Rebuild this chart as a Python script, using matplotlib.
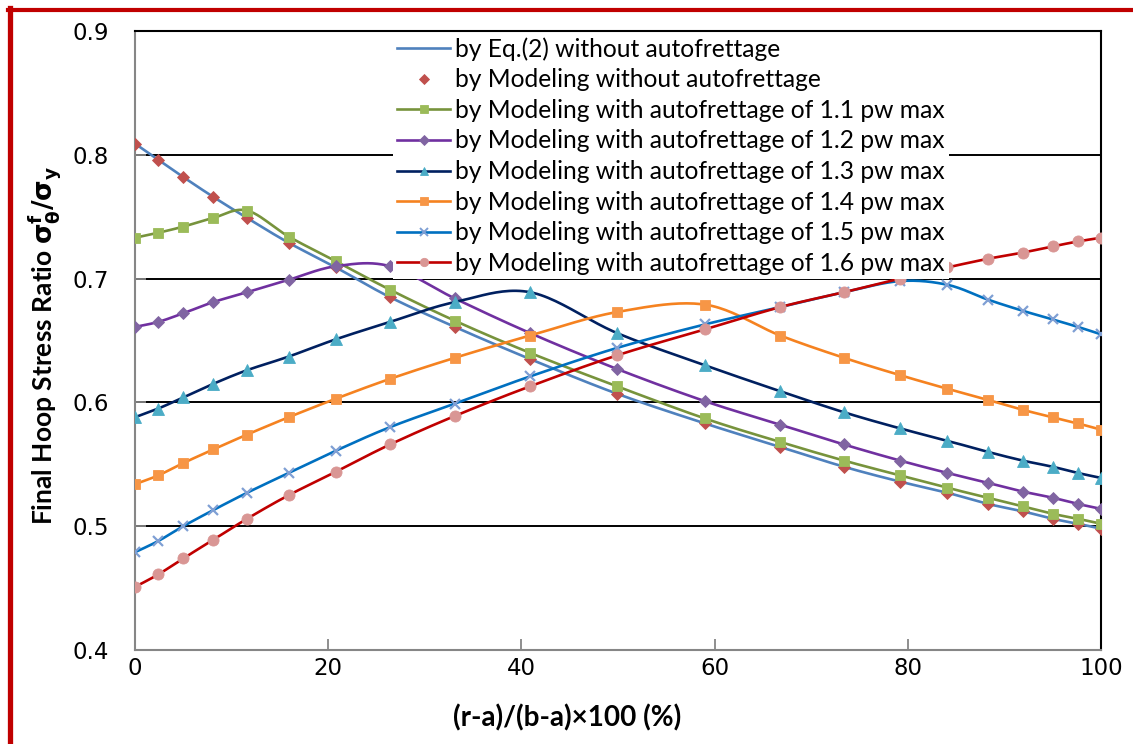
import numpy as np
import matplotlib
matplotlib.use("Agg")
import matplotlib.pyplot as plt
from matplotlib.lines import Line2D

# ── DATA ──────────────────────────────────────────────────────────────────────

x_pos = [0, 2.4, 5.0, 8.1, 11.6, 15.9, 20.8, 26.4, 33.1, 40.9, 49.9,
         59.0, 66.8, 73.4, 79.2, 84.1, 88.3, 91.9, 95.0, 97.6, 100]

eq2_no_af = [0.809, 0.796, 0.782, 0.766, 0.749, 0.729, 0.709, 0.685, 0.661, 0.635, 0.607,
             0.583, 0.564, 0.548, 0.536, 0.527, 0.518, 0.512, 0.506, 0.502, 0.498]
model_no_af = [0.809, 0.796, 0.782, 0.766, 0.749, 0.729, 0.709, 0.685, 0.661, 0.635, 0.607,
               0.583, 0.564, 0.548, 0.536, 0.527, 0.518, 0.512, 0.506, 0.502, 0.498]
af_11 = [0.733, 0.737, 0.742, 0.749, 0.755, 0.734, 0.714, 0.691, 0.666, 0.640, 0.613,
         0.587, 0.568, 0.553, 0.541, 0.531, 0.523, 0.516, 0.510, 0.506, 0.502]
af_12 = [0.661, 0.665, 0.672, 0.681, 0.689, 0.699, 0.710, 0.710, 0.684, 0.656, 0.627,
         0.601, 0.582, 0.566, 0.553, 0.543, 0.535, 0.528, 0.523, 0.518, 0.514]
af_13 = [0.588, 0.595, 0.604, 0.615, 0.626, 0.637, 0.651, 0.665, 0.681, 0.689, 0.656,
         0.630, 0.609, 0.592, 0.579, 0.569, 0.560, 0.553, 0.548, 0.543, 0.539]
af_14 = [0.534, 0.541, 0.551, 0.562, 0.574, 0.588, 0.603, 0.619, 0.636, 0.654, 0.673,
         0.679, 0.654, 0.636, 0.622, 0.611, 0.602, 0.594, 0.588, 0.583, 0.578]
af_15 = [0.479, 0.488, 0.500, 0.513, 0.527, 0.543, 0.561, 0.580, 0.599, 0.621, 0.644,
         0.663, 0.677, 0.689, 0.698, 0.695, 0.683, 0.674, 0.667, 0.661, 0.655]
af_16 = [0.451, 0.461, 0.474, 0.489, 0.506, 0.525, 0.544, 0.566, 0.589, 0.613, 0.638,
         0.659, 0.677, 0.689, 0.700, 0.709, 0.716, 0.721, 0.726, 0.730, 0.733]

labels = [
    "by Eq.(2) without autofrettage",
    "by Modeling without autofrettage",
    "by Modeling with autofrettage of 1.1 pw max",
    "by Modeling with autofrettage of 1.2 pw max",
    "by Modeling with autofrettage of 1.3 pw max",
    "by Modeling with autofrettage of 1.4 pw max",
    "by Modeling with autofrettage of 1.5 pw max",
    "by Modeling with autofrettage of 1.6 pw max",
]

# (values, line colour, marker, marker colour, marker size)
SERIES = [
    (eq2_no_af,   "#4F81BD", None, None,      0),
    (model_no_af, None,      "D",  "#C0504D", 6.5),
    (af_11,       "#77933C", "s",  "#9BBB59", 7.5),
    (af_12,       "#7030A0", "D",  "#8064A2", 6.5),
    (af_13,       "#002060", "^",  "#4BACC6", 8.5),
    (af_14,       "#F58220", "s",  "#F79646", 7.5),
    (af_15,       "#0070C0", "x",  "#7F9FD4", 7.5),
    (af_16,       "#C00000", "o",  "#D99694", 8.0),
]

TEXT_FONT = ["Lato", "DejaVu Sans"]
BORDER_RED = "#C00000"
AXIS_GRAY = "#868686"

W_PX, H_PX = 966, 619   # plot area size in pixels, used for screen-space smoothing


def smooth(xs, ys, n=24):
    """Excel-style smoothed line (Bezier through the points, done in screen space)."""
    u = np.asarray(xs, float) / 100 * W_PX
    v = (np.asarray(ys, float) - 0.4) / 0.5 * H_PX
    P = np.column_stack([u, v])
    Pm = np.vstack([P[0], P, P[-1]])
    t = np.linspace(0, 1, n)[1:, None]
    out = [P[:1]]
    for i in range(len(P) - 1):
        p0, p1, p2, p3 = Pm[i], Pm[i + 1], Pm[i + 2], Pm[i + 3]
        c1 = p1 + (p2 - p0) / 6
        c2 = p2 - (p3 - p1) / 6
        out.append((1 - t) ** 3 * p1 + 3 * (1 - t) ** 2 * t * c1
                   + 3 * (1 - t) * t ** 2 * c2 + t ** 3 * p2)
    Q = np.vstack(out)
    return Q[:, 0] / W_PX * 100, Q[:, 1] / H_PX * 0.5 + 0.4


plt.rcParams["mathtext.fontset"] = "dejavusans"
plt.rcParams["mathtext.default"] = "bf"

fig = plt.figure(figsize=(11.33, 7.44), dpi=100, facecolor="white")
ax = fig.add_axes([135 / 1133, 1 - 650 / 744, 966 / 1133, 619 / 744])

# grid lines
for yv in [0.5, 0.6, 0.7, 0.8, 0.9]:
    ax.axhline(yv, color="black", lw=1.4, zorder=1)

handles = []
for k, (vals, lc, mk, mc, ms) in enumerate(SERIES):
    z = 3 + k
    if lc is not None:
        sx, sy = smooth(x_pos, vals)
        ax.plot(sx, sy, color=lc, lw=1.9, zorder=z, solid_capstyle="round")
    if mk is not None:
        mew = 1.6 if mk == "x" else 0.6
        ax.plot(x_pos, vals, ls="none", marker=mk, ms=ms, mfc=mc, mec=mc,
                mew=mew, zorder=z + 0.5)
    handles.append(Line2D([], [], color=lc if lc else "none", lw=1.9,
                          marker=mk if mk else None,
                          ms=(ms * 0.75 if mk else 0), mfc=mc, mec=mc,
                          mew=(1.4 if mk == "x" else 0.6)))

ax.set_xlim(0, 100)
ax.set_ylim(0.4, 0.9)
ax.set_xticks([0, 20, 40, 60, 80, 100])
ax.set_yticks([0.4, 0.5, 0.6, 0.7, 0.8, 0.9])
ax.set_yticklabels(["0.4", "0.5", "0.6", "0.7", "0.8", "0.9"])

for side in ["left", "bottom"]:
    ax.spines[side].set_color(AXIS_GRAY)
    ax.spines[side].set_linewidth(1.5)
for side in ["top", "right"]:
    ax.spines[side].set_color("black")
    ax.spines[side].set_linewidth(1.5)

ax.tick_params(axis="both", direction="in", length=8, width=1.3, color=AXIS_GRAY,
               labelsize=16.5, labelcolor="black")
ax.tick_params(axis="y", pad=19)
ax.tick_params(axis="x", pad=5)
for lab in ax.get_xticklabels() + ax.get_yticklabels():
    lab.set_fontfamily("DejaVu Sans")

leg = ax.legend(handles, labels, loc="upper left", bbox_to_anchor=(0.267, 0.997),
                borderaxespad=0, frameon=True, fancybox=False, framealpha=1,
                facecolor="white", edgecolor="none", handlelength=2.15,
                handletextpad=0.2, labelspacing=0.31, borderpad=0.17,
                prop={"family": TEXT_FONT, "size": 17.7})
leg.set_zorder(20)

fig.text(567 / 1133, 1 - 718 / 744, "(r-a)/(b-a)×100 (%)", ha="center", va="center",
         fontsize=20, fontweight="bold", family=TEXT_FONT)
fig.text(45 / 1133, 1 - 345 / 744,
         r"Final Hoop Stress Ratio $\sigma^{f}_{\theta}/\sigma_{y}$",
         ha="center", va="center", rotation=90, fontsize=19, fontweight="bold",
         family=TEXT_FONT)

# red frame round the figure (left and top edges visible)
fig.add_artist(Line2D([10.5 / 1133, 10.5 / 1133], [0, 1 - 8 / 744],
                      transform=fig.transFigure, color=BORDER_RED, lw=3.8))
fig.add_artist(Line2D([8 / 1133, 1], [1 - 10 / 744, 1 - 10 / 744],
                      transform=fig.transFigure, color=BORDER_RED, lw=3.0))

fig.savefig("out.png", dpi=100, facecolor="white")
